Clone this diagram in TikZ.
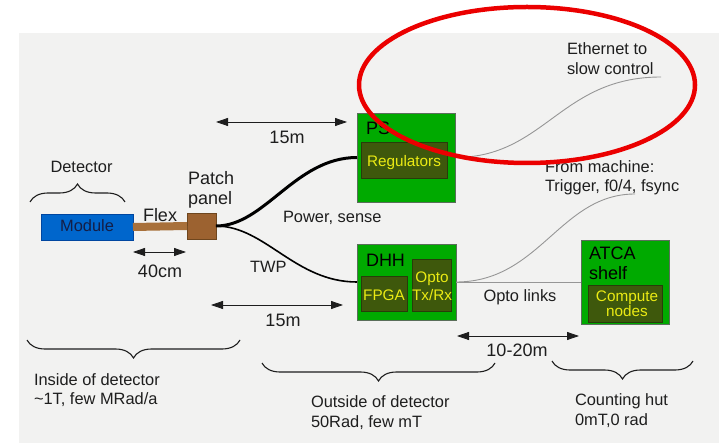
\documentclass[tikz,border=0pt]{standalone}
\usepackage{fontspec}
\setmainfont{Liberation Sans}
\usetikzlibrary{arrows.meta,decorations.pathreplacing}
\definecolor{bgc}{RGB}{242,242,241}
\definecolor{txtc}{RGB}{30,30,30}
\definecolor{grn}{RGB}{0,170,0}
\definecolor{gbord}{RGB}{90,110,90}
\definecolor{innerc}{RGB}{62,88,12}
\definecolor{ibord}{RGB}{40,60,10}
\definecolor{yel}{RGB}{235,235,20}
\definecolor{modblue}{RGB}{0,102,204}
\definecolor{modbord}{RGB}{0,70,160}
\definecolor{modtxt}{RGB}{20,30,70}
\definecolor{patchc}{RGB}{156,98,48}
\definecolor{patchb}{RGB}{110,70,30}
\definecolor{flexc}{RGB}{168,112,58}
\definecolor{cableg}{RGB}{150,150,150}
\definecolor{redc}{RGB}{235,0,0}
\begin{document}
\begin{tikzpicture}[x=1bp,y=-1bp,
  txt/.style={inner sep=0pt, outer sep=0pt, text=txtc, font=\fontsize{16.4bp}{19bp}\selectfont},
  bigtxt/.style={txt, font=\fontsize{18bp}{21bp}\selectfont},
  intxt/.style={txt, text=yel, font=\fontsize{15.3bp}{18bp}\selectfont},
  greenbox/.style={draw=gbord, fill=grn, line width=0.8bp, inner sep=0pt, outer sep=0pt},
  innerbox/.style={draw=ibord, fill=innerc, line width=0.8bp, inner sep=0pt, outer sep=0pt},
  dimarrow/.style={draw=txtc, line width=0.8bp, {Triangle[length=12bp,width=8bp]}-{Triangle[length=12bp,width=8bp]}},
  brc/.style={draw=txtc, line width=1.1bp, decorate, decoration={brace, amplitude=18bp}},
  thincable/.style={draw=cableg, line width=0.9bp},
]
\useasboundingbox (0,0) rectangle (719,443);
\fill[bgc] (19,33) rectangle (719,443);

% boxes
\node[draw=modbord, fill=modblue, line width=0.8bp, inner sep=0pt, outer sep=0pt, minimum width=92bp, minimum height=26bp] (Module) at (87,227) {};
\node[draw=patchb, fill=patchc, line width=0.8bp, inner sep=0pt, outer sep=0pt, minimum width=29bp, minimum height=26bp] (Patch) at (201.5,226) {};
\draw[flexc, line width=8bp] (Module.east) -- (Patch.west);

\node[greenbox, minimum width=98bp, minimum height=89bp] (PS) at (406,157.5) {};
\node[innerbox, minimum width=86bp, minimum height=36bp] (Reg) at (404,160) {};
\node[greenbox, minimum width=99bp, minimum height=76bp] (DHH) at (406.5,282) {};
\node[innerbox, minimum width=46bp, minimum height=35bp] (FPGA) at (384,293.5) {};
\node[innerbox, minimum width=39bp, minimum height=52bp] (Opto) at (431.5,285) {};
\node[greenbox, minimum width=88bp, minimum height=84bp] (ATCA) at (625,282) {};
\node[innerbox, minimum width=74bp, minimum height=37bp] (Comp) at (625,303.5) {};

% cables
\draw[black, line width=3bp] (Patch.east) .. controls (265,226) and (295,157.5) .. (PS.west);
\draw[black, line width=1.6bp] (Patch.east) .. controls (265,226) and (295,282) .. (DHH.west);
\coordinate (eth) at (661,77);
\coordinate (trig) at (635,194);
\draw[thincable] (DHH.east) -- (ATCA.west);
\draw[thincable] (DHH.east) .. controls (540,282) and (560,194) .. (trig);
\draw[thincable] (PS.east) .. controls (545,157.5) and (560,77) .. (eth);

% dimension arrows
\coordinate (d1a) at (216,122); \coordinate (d1b) at (347,122);
\coordinate (d2a) at (211,305); \coordinate (d2b) at (343,305);
\coordinate (d3a) at (133,252); \coordinate (d3b) at (186,252);
\coordinate (d4a) at (457,336); \coordinate (d4b) at (579,336);
\draw[dimarrow] (d1a) -- (d1b);
\draw[dimarrow] (d2a) -- (d2b);
\draw[dimarrow] (d3a) -- (d3b);
\draw[dimarrow] (d4a) -- (d4b);

% braces
\coordinate (b1a) at (30,202); \coordinate (b1b) at (125,202);
\coordinate (b2a) at (240,340); \coordinate (b2b) at (27,340);
\coordinate (b3a) at (495,363); \coordinate (b3b) at (262,363);
\coordinate (b4a) at (693,361); \coordinate (b4b) at (552,361);
\draw[brc] (b1a) -- (b1b);
\draw[brc] (b2a) -- (b2b);
\draw[brc] (b3a) -- (b3b);
\draw[brc] (b4a) -- (b4b);

% labels
\node[txt, anchor=base] (tDet) at (81.5,173) {Detector};
\node[bigtxt, anchor=base west] (tPatch1) at (188,185) {Patch};
\node[bigtxt, anchor=base west] (tPatch2) at (188,205) {panel};
\node[bigtxt, anchor=base west] (tFlex) at (143,222) {Flex};
\node[txt, text=modtxt, anchor=base] (tMod) at (87,232) {Module};
\node[bigtxt, anchor=base] (t40) at (160,278) {40cm};
\node[bigtxt, anchor=base] (t15a) at (287,144) {15m};
\node[bigtxt, anchor=base] (t15b) at (283,327) {15m};
\node[txt, anchor=base west] (tPow) at (283,223) {Power, sense};
\node[txt, anchor=base west] (tTWP) at (250,273) {TWP};
\node[txt, anchor=base west] (tIn1) at (34,385) {Inside of detector};
\node[txt, anchor=base west] (tIn2) at (34,404) {\textasciitilde 1T, few MRad/a};
\node[txt, anchor=base west] (tOut1) at (311,407) {Outside of detector};
\node[txt, anchor=base west] (tOut2) at (311,427) {50Rad, few mT};
\node[txt, anchor=base west] (tHut1) at (575,405) {Counting hut};
\node[txt, anchor=base west] (tHut2) at (575,425) {0mT,0 rad};
\node[bigtxt, anchor=base] (t1020) at (517,357) {10-20m};
\node[txt, anchor=base] (tOptoL) at (520,302) {Opto links};
\node[txt, anchor=base west] (tFrom1) at (545,173) {From machine:};
\node[txt, anchor=base west] (tFrom2) at (545,192) {Trigger, f0/4, fsync};
\node[txt, anchor=base west] (tEth1) at (567,55) {Ethernet to};
\node[txt, anchor=base west] (tEth2) at (567,75) {slow control};
\node[bigtxt, text=black, anchor=base west] (tPS) at (366,135) {PS};
\node[intxt, anchor=base] (tReg) at (404,167) {Regulators};
\node[bigtxt, text=black, anchor=base west] (tDHH) at (366,267) {DHH};
\node[intxt, anchor=base] (tFPGA) at (384,301) {FPGA};
\node[intxt, anchor=base] (tOpto1) at (432,283) {Opto};
\node[intxt, anchor=base] (tOpto2) at (432,301) {Tx/Rx};
\node[bigtxt, text=black, anchor=base west] (tATCA1) at (589,260) {ATCA};
\node[bigtxt, text=black, anchor=base west] (tATCA2) at (589,280) {shelf};
\node[intxt, anchor=base] (tComp1) at (627,302) {Compute};
\node[intxt, anchor=base] (tComp2) at (627,317) {nodes};

% red ellipse annotation
\draw[redc, line width=4.5bp] (527,85) ellipse [x radius=168, y radius=78];
\end{tikzpicture}
\end{document}
